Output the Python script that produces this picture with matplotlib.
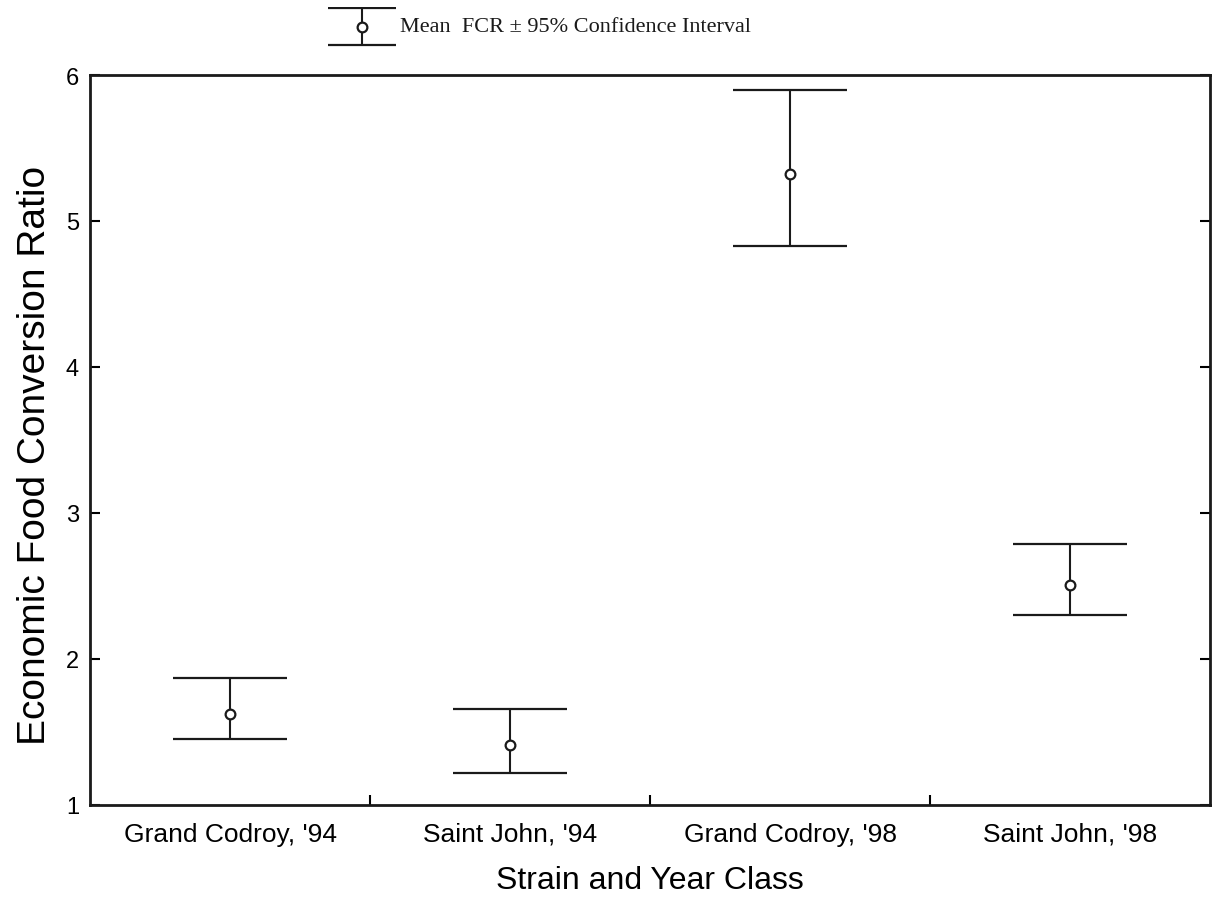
import matplotlib
matplotlib.use("Agg")
import matplotlib.pyplot as plt

plt.rcParams["font.family"] = ["Liberation Sans", "DejaVu Sans"]

# Feed conversion ratios by strain and year class
groups = ["Grand Codroy, '94", "Saint John, '94", "Grand Codroy, '98", "Saint John, '98"]
fcr_mean = [1.62, 1.41, 5.32, 2.51]
ci_lower = [1.45, 1.22, 4.83, 2.30]
ci_upper = [1.87, 1.66, 5.90, 2.79]
y_ticks = [1, 2, 3, 4, 5, 6]

INK = "#1a1a1a"
W, H = 1215, 912

fig = plt.figure(figsize=(W / 100, H / 100), dpi=100)
ax = fig.add_axes([90 / W, 1 - 806 / H, 1120 / W, 730 / H])

x = list(range(len(groups)))
err_lo = [m - lo for m, lo in zip(fcr_mean, ci_lower)]
err_hi = [hi - m for m, hi in zip(fcr_mean, ci_upper)]

style = dict(fmt="o", color=INK, mfc="white", mec=INK, ms=7, mew=1.6,
             elinewidth=1.5, capthick=2.3)
ax.errorbar(x, fcr_mean, yerr=[err_lo, err_hi], capsize=41, **style)

ax.set_xlim(-0.5, len(groups) - 0.5)
ax.set_ylim(1, 6)
ax.set_yticks(y_ticks)
ax.set_yticklabels([str(t) for t in y_ticks])

# category dividers as major ticks, group names on minor ticks at centres
ax.set_xticks([i + 0.5 for i in range(len(groups) - 1)])
ax.set_xticklabels([])
ax.set_xticks(x, minor=True)
ax.set_xticklabels(groups, minor=True)
ax.tick_params(axis="x", which="minor", length=0, pad=12, labelsize=19)
ax.tick_params(axis="x", which="major", direction="in", length=7, width=1.5)
ax.tick_params(axis="y", direction="in", length=7, width=1.5, labelsize=17,
               right=True, pad=8)

for s in ax.spines.values():
    s.set_linewidth(2.0)
    s.set_color(INK)

ax.set_xlabel("Strain and Year Class", fontsize=23, labelpad=14)
ax.set_ylabel("Economic Food Conversion Ratio", fontsize=28, labelpad=9, y=0.48)

# key: sample mean / interval symbol with its caption
kax = fig.add_axes([328 / W, 1 - 47 / H, 68 / W, 39 / H])
kax.errorbar([0], [0], yerr=[[1], [1]], capsize=24.5, **style)
kax.set_xlim(-1, 1)
kax.set_ylim(-1.08, 1.08)
kax.axis("off")
fig.text(400 / W, 1 - 28 / H, "Mean  FCR ± 95% Confidence Interval",
         family=["Liberation Serif", "DejaVu Serif"], fontsize=16,
         ha="left", va="center", color=INK)

fig.savefig("out.png", dpi=100, facecolor="white")
